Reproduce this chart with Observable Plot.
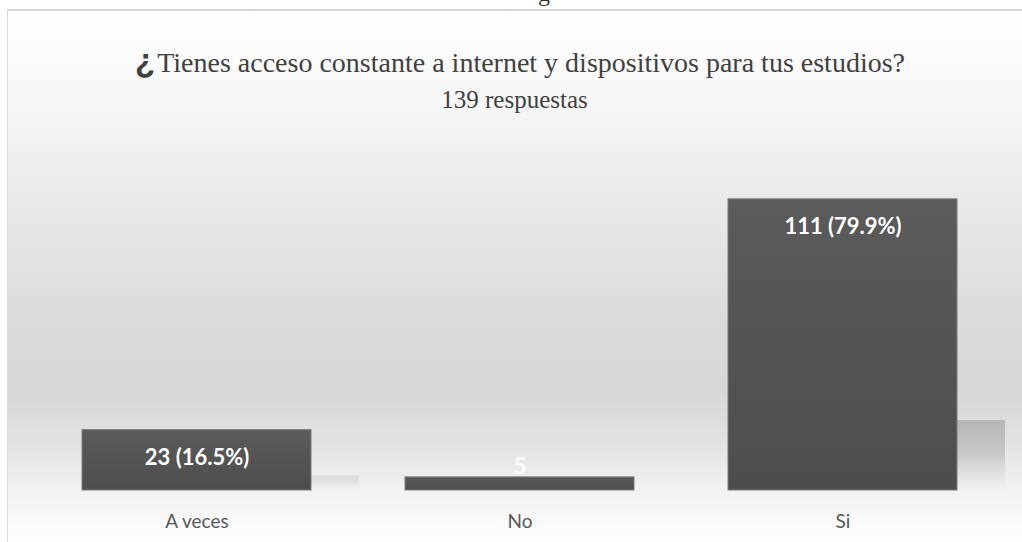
<!DOCTYPE html>
<html>
<head>
<meta charset="utf-8">
<script src="https://cdn.jsdelivr.net/npm/d3@7"></script>
<script src="https://cdn.jsdelivr.net/npm/@observablehq/plot@0.6"></script>
<style>
  html, body { margin: 0; padding: 0; background: #ffffff; }
  body { width: 1022px; height: 542px; overflow: hidden; position: relative; }
  #frame {
    position: absolute; left: 7px; top: 9px; width: 1015px; height: 533px;
    border-top: 2px solid #d6d6d6; border-left: 1px solid #d9d9d9; box-sizing: border-box;
    background: linear-gradient(to bottom, #ffffff 0px, #f7f7f7 90px, #e8e8e8 200px, #d9d9d9 330px, #d7d7d7 380px, #e2e2e2 430px, #f2f2f2 480px, #fcfcfc 520px, #ffffff 533px);
  }
  #above { position: absolute; left: 538px; top: -19px; font: 24px "Liberation Serif", serif; line-height: 24px; color: #333; }
  #content { position: absolute; left: 0; top: 0; width: 1022px; }
  #title {
    height: 130px; box-sizing: border-box; padding-top: 42px; text-align: center;
    font-family: "Liberation Serif", "Times New Roman", serif; color: #404040;
  }
  #title .t1 { font-size: 28px; line-height: 37px; padding-left: 18px; }
  #title .t2 { font-size: 25px; line-height: 30px; margin-top: 4px; padding-left: 7px; }
  #title .q { font-family: "Liberation Sans", sans-serif; font-size: 33px; font-weight: bold; margin-right: 2px; }
</style>
</head>
<body>
<div id="frame"></div>
<div id="above">g</div>
<div id="content">
  <div id="title">
    <div class="t1"><span class="q">¿</span>Tienes acceso constante a internet y dispositivos para tus estudios?</div>
    <div class="t2">139 respuestas</div>
  </div>
  <div id="chart"></div>
</div>
<script>
const categories = ["A veces", "No", "Si"];
const counts = [23, 5, 111];
const labels = ["23 (16.5%)", "5", "111 (79.9%)"];

const data = categories.map((c, i) => ({cat: categories[i], value: counts[i], label: labels[i]}));

const plot = Plot.plot({
  width: 1022,
  height: 412,
  marginLeft: 81,
  marginRight: 63,
  marginTop: 19,
  marginBottom: 52,
  style: {background: "transparent", fontFamily: "Lato, 'Open Sans', sans-serif", fontSize: "19px", overflow: "visible"},
  x: {domain: categories, paddingInner: 0.29, paddingOuter: 0, label: null},
  y: {domain: [0, 130], axis: null},
  opacity: {type: "identity"},
  marks: [
    Plot.barY(data.filter(d => d.value >= 20), {x: "cat", y: d => d.value * 0.24, dx: 48, fill: "url(#shadowGrad)",
      fillOpacity: d => d.value > 50 ? 1 : 0.35, ariaLabel: "shadow"}),
    Plot.barY(data, {x: "cat", y: "value", fill: "url(#barGrad)", stroke: "#7a7a7a", strokeWidth: 1, ariaLabel: "bars"}),
    Plot.text(data.filter(d => d.value >= 10), {x: "cat", y: "value", text: "label", dy: 28, fill: "#ffffff", fontWeight: "bold", fontSize: 22, lineAnchor: "middle"}),
    Plot.text(data.filter(d => d.value < 10), {x: "cat", y: "value", text: "label", dy: -10, fill: "#ffffff", fontWeight: "bold", fontSize: 22, lineAnchor: "middle"}),
    Plot.axisX({tickSize: 0, tickPadding: 24, fill: "#595959", fontSize: 19, label: null})
  ]
});

const svg = d3.select(plot);
const defs = svg.insert("defs", ":first-child");
const bg = defs.append("linearGradient").attr("id", "barGrad").attr("x1", 0).attr("y1", 0).attr("x2", 0).attr("y2", 1);
bg.append("stop").attr("offset", "0%").attr("stop-color", "#5b5b5b");
bg.append("stop").attr("offset", "100%").attr("stop-color", "#4d4d4d");
const sg = defs.append("linearGradient").attr("id", "shadowGrad").attr("x1", 0).attr("y1", 0).attr("x2", 0).attr("y2", 1);
sg.append("stop").attr("offset", "0%").attr("stop-color", "#a8a8a8").attr("stop-opacity", 0.75);
sg.append("stop").attr("offset", "50%").attr("stop-color", "#b5b5b5").attr("stop-opacity", 0.6);
sg.append("stop").attr("offset", "100%").attr("stop-color", "#d0d0d0").attr("stop-opacity", 0);
const flt = defs.append("filter").attr("id", "blurShadow")
  .attr("x", "-30%").attr("y", "-30%").attr("width", "160%").attr("height", "160%");
flt.append("feGaussianBlur").attr("in", "SourceGraphic").attr("stdDeviation", 3);
svg.selectAll("g[aria-label='shadow'] rect").attr("filter", "url(#blurShadow)");

document.getElementById("chart").appendChild(plot);
</script>
</body>
</html>
